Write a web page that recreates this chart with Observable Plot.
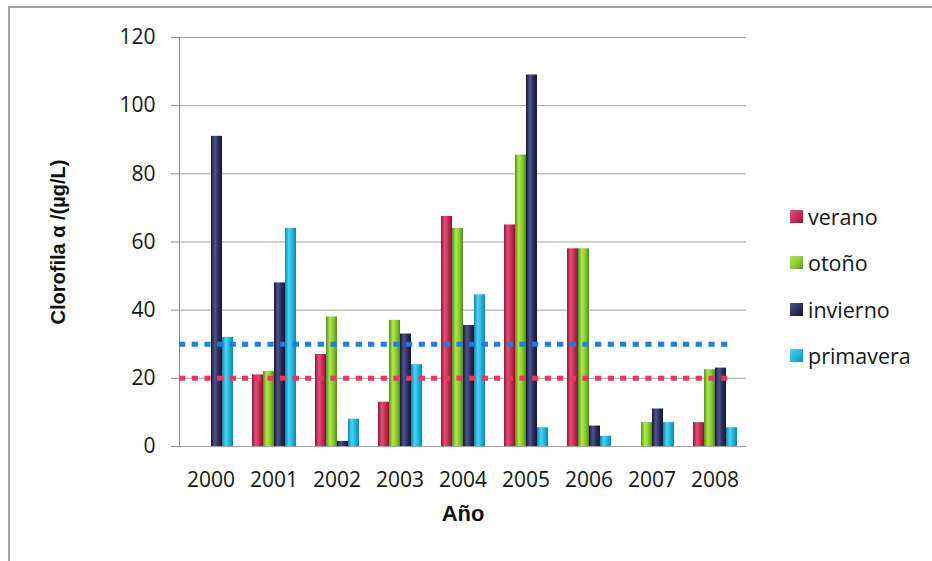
<!DOCTYPE html>
<html>
<head>
<meta charset="utf-8">
<script src="https://cdn.jsdelivr.net/npm/d3@7"></script>
<script src="https://cdn.jsdelivr.net/npm/@observablehq/plot@0.6"></script>
<style>
  html, body { margin: 0; padding: 0; background: #fff; overflow: hidden; }
  #wrap { position: relative; width: 932px; height: 561px; overflow: hidden; font-family: "Open Sans", sans-serif; }
  #border { position: absolute; left: 8px; top: 6px; width: 1000px; height: 1000px; border: 2px solid #a3a3a3; box-sizing: border-box; }
  #chart { position: absolute; left: 0; top: 0; }
  #legend { position: absolute; left: 790px; top: 193px; }
  #legend .item { display: flex; align-items: center; height: 46.5px; font-size: 21.5px; color: #151515; }
  #legend .sw { width: 13px; height: 13px; margin-right: 5px; }
</style>
</head>
<body>
<div id="wrap">
  <div id="border"></div>
  <div id="chart"></div>
  <div id="legend"></div>
</div>
<script>
// Clorofila α por estación y año (µg/L)
const years = ["2000", "2001", "2002", "2003", "2004", "2005", "2006", "2007", "2008"];
const seasons = ["verano", "otoño", "invierno", "primavera"];
const verano    = [null, 21, 27, 13, 67.5, 65, 58, null, 7];
const otono     = [null, 22, 38, 37, 64, 85.5, 58, 7, 22.5];
const invierno  = [91, 48, 1.5, 33, 35.5, 109, 6, 11, 23];
const primavera = [32, 64, 8, 24, 44.5, 5.5, 3, 7, 5.5];
const yTicks = [0, 20, 40, 60, 80, 100, 120];

// Niveles de referencia (líneas punteadas)
const refLevels = [30, 20];
const refColors = ["#1f7fdc", "#e8385e"];

const yTitle = "Clorofila α /(µg/L)";
const xTitle = "Año";

// Cylinder-like shading for each season: [edge, highlight, body, edge]
const shades = {
  "verano":    ["#8e1836", "#e4507a", "#c92c55", "#8a1632"],
  "otoño":     ["#4f9322", "#b2e64a", "#8ccd32", "#4f8f1e"],
  "invierno":  ["#17172f", "#505494", "#2c2e60", "#17172f"],
  "primavera": ["#1286b0", "#48d6f7", "#22b5df", "#1186ad"]
};

const valuesBySeason = [verano, otono, invierno, primavera];
const rows = [];
years.forEach((year, i) => {
  seasons.forEach((season, j) => {
    const v = valuesBySeason[j][i];
    if (v != null) rows.push({year, season, value: v});
  });
});

// reference segments, one per year and level; the last year's segment is shortened
const lastYear = years[years.length - 1];
const refFull = [], refLast = [];
refLevels.forEach((level, i) => {
  years.forEach(year => {
    const d = {year, level, color: refColors[i]};
    (year === lastYear ? refLast : refFull).push(d);
  });
});

const gradId = i => `grad-${i}`;
const dotted = {fx: "year", y: "level", stroke: d => d.color, strokeWidth: 5, strokeDasharray: "6.2,6.49"};
const tickFont = 21;

const plot = Plot.plot({
  width: 932,
  height: 561,
  marginLeft: 177,
  marginRight: 184,
  marginTop: 37,
  marginBottom: 115,
  style: {fontFamily: "'Open Sans', sans-serif", fontSize: `${tickFont}px`, color: "#151515", background: "transparent"},
  fx: {domain: years, padding: 0, axis: null, label: null},
  x: {domain: seasons, paddingInner: 0, paddingOuter: 0.64, axis: null},
  y: {domain: [0, 120], axis: null},
  color: {type: "ordinal", domain: seasons, range: seasons.map((s, i) => `url(#${gradId(i)})`)},
  marks: [
    // horizontal gridlines
    Plot.ruleY(yTicks, {stroke: "#a2a2a2", strokeWidth: 1}),
    // y axis line
    Plot.frame({facet: "super", anchor: "left", stroke: "#8a8a8a"}),
    Plot.axisY({ticks: yTicks, tickSize: 8, tickPadding: 16, stroke: "#8a8a8a", fontSize: tickFont, label: null}),
    // bars
    Plot.barY(rows, {fx: "year", x: "season", y: "value", fill: "season"}),
    // reference levels
    Plot.ruleY(refFull, dotted),
    Plot.ruleY(refLast, {...dotted, insetRight: 16}),
    Plot.axisFx({anchor: "bottom", tickSize: 0, tickPadding: 26, fontSize: tickFont, label: null}),
    Plot.text([yTitle], {facet: "super", frameAnchor: "left", textAnchor: "middle", rotate: -90, dx: -121, fontWeight: "bold", fontSize: 20, fontFamily: "'Liberation Sans', Arial, sans-serif", fill: "#111"}),
    Plot.text([xTitle], {facet: "super", frameAnchor: "bottom", textAnchor: "middle", dy: 74, fontWeight: "bold", fontSize: 22, fontFamily: "'Liberation Sans', Arial, sans-serif", fill: "#111"})
  ]
});

// gradient definitions referenced by the color scale
const ns = "http://www.w3.org/2000/svg";
const svg = plot.tagName.toLowerCase() === "svg" ? plot : plot.querySelector("svg");
const defs = document.createElementNS(ns, "defs");
seasons.forEach((s, i) => {
  const g = document.createElementNS(ns, "linearGradient");
  g.setAttribute("id", gradId(i));
  g.setAttribute("x1", "0"); g.setAttribute("x2", "1");
  g.setAttribute("y1", "0"); g.setAttribute("y2", "0");
  const offs = [0, 0.35, 0.65, 1];
  shades[s].forEach((c, k) => {
    const st = document.createElementNS(ns, "stop");
    st.setAttribute("offset", offs[k]);
    st.setAttribute("stop-color", c);
    g.appendChild(st);
  });
  defs.appendChild(g);
});
svg.insertBefore(defs, svg.firstChild);
document.getElementById("chart").appendChild(plot);

// legend
const legend = document.getElementById("legend");
seasons.forEach(s => {
  const c = shades[s];
  const item = document.createElement("div");
  item.className = "item";
  const sw = document.createElement("span");
  sw.className = "sw";
  sw.style.background = `linear-gradient(135deg, ${c[1]}, ${c[2]} 55%, ${c[0]})`;
  const label = document.createElement("span");
  label.textContent = s;
  item.appendChild(sw);
  item.appendChild(label);
  legend.appendChild(item);
});
</script>
</body>
</html>
